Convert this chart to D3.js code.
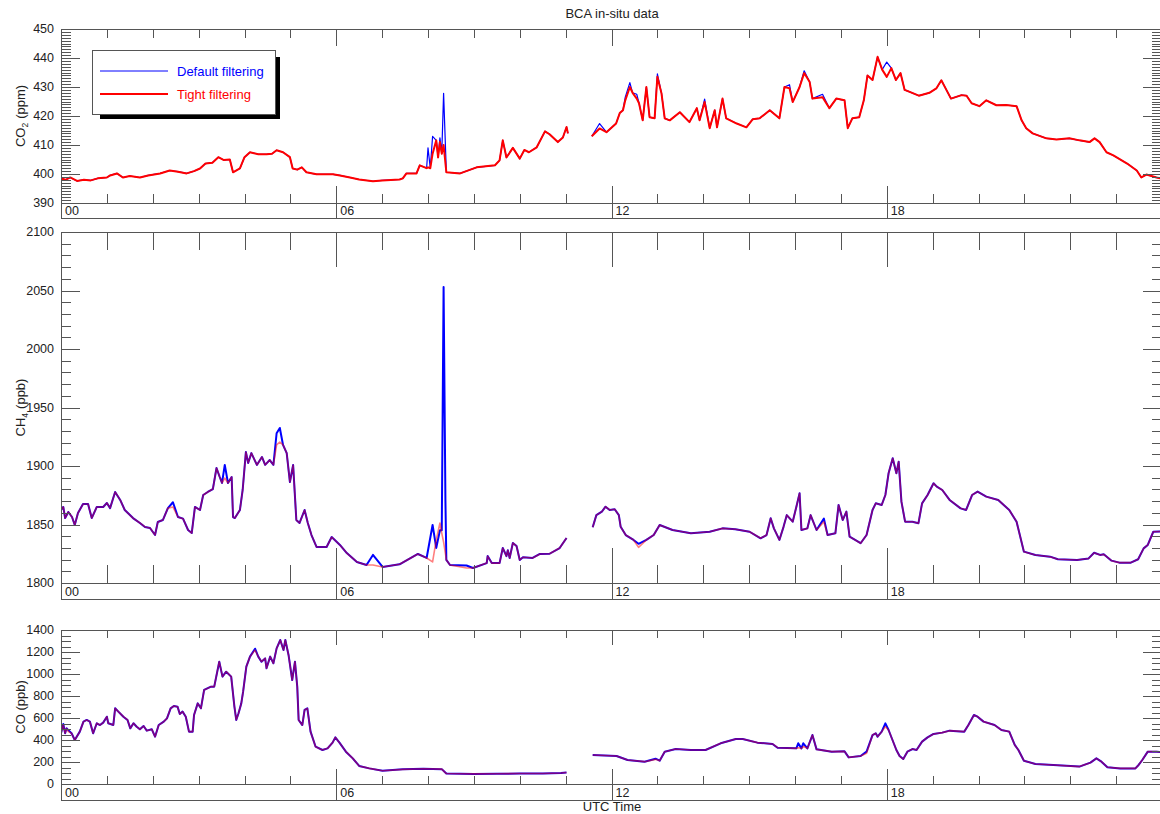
<!DOCTYPE html>
<html><head><meta charset="utf-8">
<script src="https://cdn.jsdelivr.net/npm/d3@7"></script>
<style>
html,body{margin:0;padding:0;background:#fff;}
svg{display:block;font-family:"Liberation Sans",Arial,Helvetica,sans-serif;}
</style></head>
<body><svg id="chart" width="1160" height="814"></svg>
<script>
// ---------------- DATA ----------------
const chartTitle = "BCA in-situ data";
const xAxisTitle = "UTC Time";
const xTickLabels = ["00", "06", "12", "18"];
const xMajorHours = [0, 6, 12, 18, 24];
const seriesNames = ["Default filtering", "Tight filtering"];

const co2YTicks = [390, 400, 410, 420, 430, 440, 450];
const ch4YTicks = [1800, 1850, 1900, 1950, 2000, 2050, 2100];
const coYTicks = [0, 200, 400, 600, 800, 1000, 1200, 1400];

// CO2 (ppm): hours, tight filtering, default filtering (null = no data)
const co2Hours = [0.00,0.10,0.20,0.35,0.50,0.65,0.80,1.00,1.07,1.22,1.35,1.50,1.72,1.90,2.16,2.37,2.55,2.74,2.90,3.03,3.15,3.30,3.43,3.55,3.68,3.75,3.90,4.00,4.12,4.30,4.48,4.60,4.70,4.84,4.99,5.05,5.15,5.25,5.35,5.57,5.93,6.08,6.30,6.50,6.80,7.00,7.38,7.45,7.53,7.75,7.82,7.97,8.00,8.05,8.10,8.18,8.22,8.26,8.30,8.34,8.40,8.70,9.06,9.46,9.56,9.63,9.71,9.85,10.00,10.10,10.20,10.37,10.55,10.65,10.83,10.94,11.02,11.05,11.30,11.57,11.74,11.89,12.10,12.18,12.25,12.30,12.40,12.46,12.55,12.60,12.68,12.76,12.83,12.94,13.00,13.09,13.16,13.27,13.49,13.70,13.86,13.92,14.03,14.14,14.25,14.30,14.42,14.50,14.73,14.94,15.08,15.23,15.45,15.66,15.77,15.88,15.95,16.10,16.20,16.32,16.38,16.60,16.75,16.90,17.08,17.15,17.25,17.40,17.50,17.58,17.69,17.80,17.90,18.00,18.10,18.20,18.30,18.39,18.50,18.70,18.93,19.08,19.19,19.30,19.40,19.63,19.74,19.85,20.02,20.17,20.39,20.60,20.83,20.94,21.04,21.18,21.48,21.70,21.98,22.20,22.42,22.53,22.64,22.79,22.94,23.24,23.45,23.55,23.66,23.88,23.98];
const co2Tight = [398.5,398.0,398.8,397.6,398.0,397.8,398.5,398.8,399.5,400.2,398.8,399.3,398.8,399.5,400.2,401.2,400.8,400.2,401.0,401.9,403.6,403.9,405.8,404.8,405.0,400.6,401.9,405.8,407.5,406.8,406.8,407.0,408.2,407.5,405.8,401.9,401.5,402.3,400.6,399.9,399.9,399.5,398.8,398.1,397.5,397.8,398.1,398.5,400.2,400.2,403.0,402.0,402.3,402.0,407.0,411.6,405.7,411.0,407.0,410.0,400.6,400.2,402.3,403.0,404.7,411.6,405.7,409.0,405.3,408.3,407.5,409.2,414.7,413.7,411.0,412.6,416.2,414.0,null,413.0,415.7,414.4,417.4,421.0,422.0,425.4,430.0,428.0,426.0,424.4,418.5,430.0,419.6,419.2,433.5,427.8,419.2,418.5,421.3,417.9,422.7,418.5,424.8,415.8,422.0,416.1,426.0,419.2,417.4,416.1,418.9,419.2,422.0,419.2,430.0,429.6,424.8,430.0,434.8,431.7,426.0,426.5,422.7,426.0,425.4,415.8,419.2,419.6,425.4,434.0,432.4,440.4,436.0,433.5,436.5,432.4,434.8,429.0,428.3,427.0,428.0,429.5,432.3,429.0,426.0,427.2,427.0,424.4,423.4,425.4,423.7,423.8,423.4,418.5,415.8,414.0,412.3,411.9,412.3,411.6,411.0,412.3,411.0,407.5,406.4,403.6,401.2,398.8,399.8,398.8,398.5];
const co2Default = [398.5,398.0,398.8,397.6,398.0,397.8,398.5,398.8,399.5,400.2,398.8,399.3,398.8,399.5,400.2,401.2,400.8,400.2,401.0,401.9,403.6,403.9,405.8,404.8,405.0,400.6,401.9,405.8,407.5,406.8,406.8,407.0,408.2,407.5,405.8,401.9,401.5,402.3,400.6,399.9,399.9,399.5,398.8,398.1,397.5,397.8,398.1,398.5,400.2,400.2,403.0,402.0,409.0,402.0,413.0,411.6,405.7,412.5,407.0,427.8,400.6,400.2,402.3,403.0,404.7,411.6,405.7,409.0,405.3,408.3,407.5,409.2,414.7,413.7,411.0,412.6,416.2,414.0,null,413.0,417.4,414.4,417.4,421.0,422.0,426.5,431.5,428.0,427.5,424.4,418.5,430.0,419.6,419.2,434.5,427.8,419.2,418.5,421.3,417.9,422.7,418.5,425.8,415.8,422.0,416.1,426.0,419.2,417.4,416.1,418.9,419.2,422.0,419.2,430.0,430.8,424.8,430.0,435.6,431.7,426.0,427.5,422.7,426.0,425.4,415.8,419.2,419.6,425.4,434.0,432.4,440.4,436.0,438.6,436.5,432.4,434.8,429.0,428.3,427.0,428.0,429.5,432.3,429.0,426.0,427.2,427.0,424.4,423.4,425.4,423.7,423.8,423.4,418.5,415.8,414.0,412.3,411.9,412.3,411.6,411.0,412.3,411.0,407.5,406.4,403.6,401.2,398.8,399.8,398.8,398.5];

// CH4 (ppb)
const ch4Hours = [0.00,0.05,0.09,0.16,0.24,0.30,0.37,0.48,0.59,0.67,0.78,0.92,1.00,1.07,1.18,1.29,1.39,1.57,1.72,1.83,1.94,2.05,2.11,2.22,2.33,2.44,2.55,2.66,2.77,2.85,2.92,3.03,3.10,3.20,3.31,3.39,3.46,3.51,3.57,3.64,3.72,3.75,3.79,3.90,3.96,4.03,4.08,4.15,4.27,4.38,4.45,4.55,4.63,4.70,4.77,4.84,4.92,4.99,5.06,5.13,5.20,5.31,5.38,5.46,5.57,5.79,5.90,6.08,6.23,6.45,6.66,6.80,7.01,7.38,7.78,7.97,8.10,8.18,8.26,8.30,8.34,8.38,8.40,8.48,8.84,8.98,9.28,9.30,9.39,9.56,9.63,9.71,9.74,9.78,9.85,9.93,10.00,10.07,10.28,10.44,10.65,10.87,11.02,11.30,11.59,11.67,11.79,11.87,11.96,12.07,12.16,12.20,12.31,12.48,12.59,12.76,12.92,13.05,13.33,13.73,14.14,14.42,14.70,15.01,15.25,15.38,15.47,15.54,15.66,15.75,15.82,15.95,16.03,16.10,16.14,16.27,16.34,16.47,16.63,16.71,16.88,16.95,17.04,17.12,17.19,17.43,17.56,17.69,17.76,17.89,17.97,18.04,18.13,18.21,18.26,18.32,18.40,18.56,18.69,18.77,18.89,19.02,19.09,19.21,19.37,19.61,19.73,19.86,19.98,20.17,20.43,20.67,20.83,20.99,21.24,21.56,21.73,22.15,22.40,22.52,22.65,22.73,22.90,23.07,23.32,23.48,23.60,23.69,23.81,23.98];
const ch4Tight = [1862.4,1865.0,1855.5,1860.7,1856.4,1849.6,1859.8,1867.5,1867.5,1855.5,1865.0,1865.0,1868.4,1864.0,1877.8,1871.0,1862.4,1855.5,1851.3,1847.9,1847.0,1841.0,1852.1,1853.8,1864.0,1865.0,1856.4,1855.0,1845.3,1842.7,1865.0,1862.4,1875.2,1877.8,1880.3,1898.3,1890.6,1885.5,1889.7,1885.5,1890.6,1856.4,1855.5,1862.4,1879.5,1912.0,1902.6,1911.0,1900.9,1907.7,1901.0,1905.1,1901.0,1918.0,1920.5,1918.0,1911.0,1886.3,1900.9,1853.8,1851.3,1862.4,1851.3,1841.0,1830.8,1830.8,1839.3,1832.5,1825.6,1818.0,1815.4,1815.4,1813.7,1816.0,1824.8,1821.4,1818.0,1836.8,1851.3,1842.7,1835.0,1825.0,1819.7,1815.4,1812.8,1812.8,1817.0,1823.0,1817.0,1817.0,1829.9,1823.0,1828.0,1821.4,1834.2,1831.6,1819.7,1822.0,1821.4,1824.8,1825.0,1829.9,1838.5,null,1847.6,1858.0,1861.0,1865.2,1862.4,1863.0,1858.0,1848.0,1841.0,1836.8,1830.5,1836.8,1841.0,1849.6,1845.3,1842.5,1843.8,1846.7,1846.0,1843.8,1838.2,1841.0,1855.3,1846.7,1836.8,1848.0,1858.0,1852.4,1865.2,1876.7,1845.3,1846.7,1858.0,1845.3,1852.4,1841.0,1842.5,1866.7,1853.8,1861.0,1839.6,1834.0,1841.0,1862.4,1868.1,1866.7,1875.2,1893.8,1906.6,1893.8,1903.7,1869.5,1852.4,1852.4,1851.0,1868.1,1875.2,1885.2,1882.4,1879.5,1871.0,1863.8,1862.4,1875.2,1878.1,1873.8,1871.0,1862.4,1852.4,1826.8,1823.9,1822.5,1820.3,1819.7,1821.0,1825.9,1824.0,1824.5,1819.1,1817.4,1817.4,1820.3,1829.6,1832.5,1843.8,1844.0];
const ch4Default = [1862.4,1865.0,1855.5,1860.7,1856.4,1849.6,1859.8,1867.5,1867.5,1855.5,1865.0,1865.0,1868.4,1864.0,1877.8,1871.0,1862.4,1855.5,1851.3,1847.9,1847.0,1841.0,1852.1,1853.8,1864.0,1869.0,1856.4,1855.0,1845.3,1842.7,1865.0,1862.4,1875.2,1877.8,1880.3,1898.3,1890.6,1885.5,1900.9,1885.5,1890.6,1856.4,1855.5,1862.4,1879.5,1912.0,1902.6,1911.0,1900.9,1907.7,1901.0,1905.1,1901.0,1928.0,1932.5,1918.0,1911.0,1886.3,1900.9,1853.8,1851.3,1862.4,1851.3,1841.0,1830.8,1830.8,1839.3,1832.5,1825.6,1818.0,1815.4,1824.0,1813.7,1816.0,1824.8,1821.4,1849.6,1830.0,1845.0,1845.0,2053.0,1870.0,1819.7,1815.4,1815.0,1812.8,1817.0,1823.0,1817.0,1817.0,1829.9,1823.0,1828.0,1821.4,1834.2,1831.6,1819.7,1822.0,1821.4,1824.8,1825.0,1829.9,1838.5,null,1847.6,1858.0,1861.0,1865.2,1862.4,1863.0,1858.0,1848.0,1841.0,1836.8,1833.5,1836.8,1841.0,1849.6,1845.3,1842.5,1843.8,1846.7,1846.0,1843.8,1838.2,1841.0,1855.3,1846.7,1836.8,1848.0,1858.0,1852.4,1865.2,1876.7,1845.3,1846.7,1858.0,1845.3,1855.0,1841.0,1842.5,1866.7,1853.8,1861.0,1839.6,1834.0,1841.0,1862.4,1868.1,1866.7,1875.2,1893.8,1906.6,1893.8,1903.7,1869.5,1852.4,1852.4,1851.0,1868.1,1875.2,1885.2,1882.4,1879.5,1871.0,1863.8,1862.4,1875.2,1878.1,1873.8,1871.0,1862.4,1852.4,1826.8,1823.9,1822.5,1820.3,1819.7,1821.0,1825.9,1824.0,1824.5,1819.1,1817.4,1817.4,1820.3,1829.6,1832.5,1843.8,1844.0];

// CO (ppb)
const coHours = [0.00,0.05,0.09,0.12,0.16,0.23,0.30,0.41,0.49,0.56,0.63,0.70,0.78,0.85,0.92,1.00,1.03,1.14,1.18,1.25,1.36,1.45,1.51,1.58,1.65,1.72,1.80,1.87,1.98,2.05,2.13,2.24,2.31,2.39,2.46,2.54,2.59,2.65,2.72,2.79,2.87,2.90,2.98,3.05,3.12,3.27,3.34,3.45,3.52,3.60,3.71,3.78,3.82,3.87,3.93,3.97,4.04,4.12,4.23,4.30,4.37,4.45,4.48,4.56,4.63,4.70,4.78,4.85,4.89,4.96,5.04,5.10,5.15,5.18,5.26,5.31,5.37,5.44,5.55,5.70,5.81,5.92,5.98,6.07,6.21,6.36,6.50,6.72,7.01,7.45,7.90,8.30,8.40,9.00,9.50,10.00,10.50,10.90,11.02,11.30,11.59,12.11,12.35,12.72,12.96,13.05,13.16,13.40,13.73,14.05,14.38,14.71,14.86,15.18,15.51,15.62,16.03,16.07,16.14,16.18,16.27,16.38,16.47,16.80,17.08,17.17,17.43,17.56,17.69,17.76,17.80,17.89,17.97,18.04,18.21,18.28,18.36,18.45,18.56,18.65,18.77,18.89,19.02,19.21,19.37,19.69,19.78,19.90,19.98,20.11,20.35,20.50,20.67,20.79,20.87,20.99,21.24,21.63,22.20,22.44,22.57,22.68,22.81,23.09,23.42,23.49,23.57,23.69,23.88,23.98];
const coTight = [461,536,461,506,476,461,400,476,567,582,567,461,552,536,558,612,552,536,688,658,612,582,506,552,521,497,527,485,497,430,536,567,597,688,709,703,636,658,612,476,476,627,733,688,855,885,885,1112,976,1021,976,703,582,643,733,839,1067,1158,1218,1158,1112,1142,1052,1158,1097,1233,1309,1218,1309,1173,945,1112,885,582,536,673,688,476,339,309,324,376,424,376,294,233,164,142,121,133,138,135,95,92,93,95,95,100,105,null,264,255,218,203,224,212,294,318,309,309,370,409,409,376,364,330,324,330,324,340,324,445,315,294,297,242,254,280,445,461,430,476,521,491,309,254,227,294,318,309,385,424,455,467,485,476,536,627,612,567,536,491,476,355,309,212,182,173,158,194,233,203,152,142,142,173,218,294,294,290];
const coDefault = [461,546,461,506,490,461,400,476,567,582,567,461,552,536,558,612,552,536,688,658,612,582,506,552,521,497,527,485,497,430,536,567,597,688,709,703,636,658,612,476,476,627,733,688,855,885,885,1112,976,1021,976,703,582,643,733,839,1067,1158,1230,1158,1112,1142,1052,1158,1097,1233,1309,1218,1309,1173,945,1112,885,582,536,673,688,476,339,309,324,376,424,376,294,233,164,142,121,133,138,135,95,92,93,95,95,100,105,null,264,255,218,203,230,212,294,318,309,309,370,409,409,376,364,330,324,370,324,370,324,445,315,294,297,242,254,294,445,461,430,476,551,491,309,254,227,294,318,309,385,424,455,467,485,476,536,627,612,567,536,491,476,355,309,212,182,173,158,194,233,203,152,142,142,173,218,294,294,290];

// ---------------- DRAWING ----------------
const svg = d3.select("#chart");
const X0 = 61, X1 = 1162;
const x = d3.scaleLinear().domain([0, 24]).range([X0, X1]);
const BLUE = "#0000ff", RED = "#ff0000", AX = "#555", TXT = "#222";
const TICKFS = 12.5, LABFS = 13;

const panels = [
  {top: 29, bottom: 203, strip: 218, domain: [390, 450], ticks: co2YTicks, minorStep: 1,
   hours: co2Hours, tight: co2Tight, def: co2Default, label: ["CO", "2", "(ppm)"], style: "co2"},
  {top: 232, bottom: 583, strip: 599, domain: [1800, 2100], ticks: ch4YTicks, minorStep: 10,
   hours: ch4Hours, tight: ch4Tight, def: ch4Default, label: ["CH", "4", "(ppb)"], style: "mix"},
  {top: 630, bottom: 784, strip: 800, domain: [0, 1400], ticks: coYTicks, minorStep: 50,
   hours: coHours, tight: coTight, def: coDefault, label: ["CO (ppb)", "", ""], style: "mix"}
];

panels.forEach((p, i) => {
  const y = d3.scaleLinear().domain(p.domain).range([p.bottom, p.top]);
  const g = svg.append("g");
  const h = p.bottom - p.top;
  const minorLenX = Math.round(0.05 * h), majorLenX = Math.round(0.1 * h);

  const cid = "clip" + i;
  svg.append("clipPath").attr("id", cid).append("rect")
    .attr("x", X0).attr("y", p.top).attr("width", X1 - X0).attr("height", h);

  const mk = (arr) => p.hours.map((t, k) => ({t: t, v: arr[k]}));
  const line = d3.line().defined(d => d.v != null).x(d => x(d.t)).y(d => y(d.v));
  const lg = g.append("g").attr("clip-path", `url(#${cid})`);
  if (p.style === "co2") {
    lg.append("path").datum(mk(p.def)).attr("d", line).attr("fill", "none")
      .attr("stroke", BLUE).attr("stroke-width", 1.2).attr("stroke-linejoin", "round");
    lg.append("path").datum(mk(p.tight)).attr("d", line).attr("fill", "none")
      .attr("stroke", RED).attr("stroke-width", 2).attr("stroke-linejoin", "round");
  } else {
    lg.append("path").datum(mk(p.def)).attr("d", line).attr("fill", "none")
      .attr("stroke", BLUE).attr("stroke-width", 2).attr("stroke-linejoin", "round");
    lg.append("path").datum(mk(p.tight)).attr("d", line).attr("fill", "none")
      .attr("stroke", RED).attr("stroke-opacity", 0.5).attr("stroke-width", 1.6).attr("stroke-linejoin", "round");
  }

  const fr = g.append("g").attr("stroke", AX).attr("stroke-width", 1).attr("fill", "none");
  fr.append("line").attr("x1", X0).attr("x2", X1).attr("y1", p.top + 0.5).attr("y2", p.top + 0.5);
  fr.append("line").attr("x1", X0).attr("x2", X1).attr("y1", p.bottom + 0.5).attr("y2", p.bottom + 0.5);
  fr.append("line").attr("x1", X0).attr("x2", X1).attr("y1", p.strip + 0.5).attr("y2", p.strip + 0.5);
  fr.append("line").attr("x1", X0 + 0.5).attr("x2", X0 + 0.5).attr("y1", p.top).attr("y2", p.strip + 0.5);
  fr.append("line").attr("x1", X1 - 0.5).attr("x2", X1 - 0.5).attr("y1", p.top).attr("y2", p.strip + 0.5);

  d3.range(1, 24).forEach(hr => {
    const xx = Math.round(x(hr)) + 0.5;
    const major = xMajorHours.includes(hr);
    fr.append("line").attr("x1", xx).attr("x2", xx).attr("y1", p.top)
      .attr("y2", p.top + (major ? majorLenX : minorLenX));
    fr.append("line").attr("x1", xx).attr("x2", xx)
      .attr("y1", p.bottom - (major ? majorLenX : minorLenX))
      .attr("y2", major ? p.strip : p.bottom);
  });
  g.selectAll("text.xl").data(xTickLabels).join("text")
    .attr("x", (d, k) => x(xMajorHours[k]) + 4).attr("y", p.strip - 3)
    .attr("font-size", TICKFS).attr("fill", TXT).text(d => d);

  const minor = d3.range(p.domain[0], p.domain[1] + 1e-9, p.minorStep).filter(v => !p.ticks.includes(v));
  minor.forEach(v => {
    const yy = Math.round(y(v)) + 0.5;
    fr.append("line").attr("x1", X0).attr("x2", X0 + 10).attr("y1", yy).attr("y2", yy);
    fr.append("line").attr("x1", X1).attr("x2", X1 - 10).attr("y1", yy).attr("y2", yy);
  });
  p.ticks.forEach(v => {
    const yy = Math.round(y(v)) + 0.5;
    fr.append("line").attr("x1", X0).attr("x2", X0 + 19).attr("y1", yy).attr("y2", yy);
    fr.append("line").attr("x1", X1).attr("x2", X1 - 19).attr("y1", yy).attr("y2", yy);
  });
  g.selectAll("text.yl").data(p.ticks).join("text")
    .attr("x", X0 - 7).attr("y", d => y(d)).attr("dy", "0.35em")
    .attr("text-anchor", "end").attr("font-size", TICKFS).attr("fill", TXT).text(d => d);

  const t = g.append("text")
    .attr("transform", `translate(25,${(p.top + p.bottom) / 2}) rotate(-90)`)
    .attr("text-anchor", "middle").attr("font-size", LABFS).attr("fill", TXT);
  t.append("tspan").text(p.label[0]);
  if (p.label[1]) {
    t.append("tspan").attr("font-size", 8.5).attr("dy", 3).text(p.label[1]);
    t.append("tspan").attr("dy", -3).attr("dx", 4).text(p.label[2]);
  }
});

svg.append("text").attr("x", 612).attr("y", 18).attr("text-anchor", "middle")
  .attr("font-size", LABFS).attr("fill", TXT).text(chartTitle);
svg.append("text").attr("x", 612).attr("y", 811).attr("text-anchor", "middle")
  .attr("font-size", LABFS).attr("fill", TXT).text(xAxisTitle);

const leg = svg.append("g");
leg.append("rect").attr("x", 100).attr("y", 57).attr("width", 180).attr("height", 62).attr("fill", "#000");
leg.append("rect").attr("x", 92.5).attr("y", 50.5).attr("width", 183).attr("height", 64)
  .attr("fill", "#fff").attr("stroke", AX);
const legColors = [BLUE, RED], legWidths = [1, 2], legY = [71, 94];
seriesNames.forEach((n, k) => {
  leg.append("line").attr("x1", 100).attr("x2", 168).attr("y1", legY[k]).attr("y2", legY[k])
    .attr("stroke", legColors[k]).attr("stroke-width", legWidths[k]);
  leg.append("text").attr("x", 177).attr("y", legY[k]).attr("dy", "0.35em")
    .attr("font-size", LABFS).attr("fill", legColors[k]).text(n);
});
</script>
</body></html>
